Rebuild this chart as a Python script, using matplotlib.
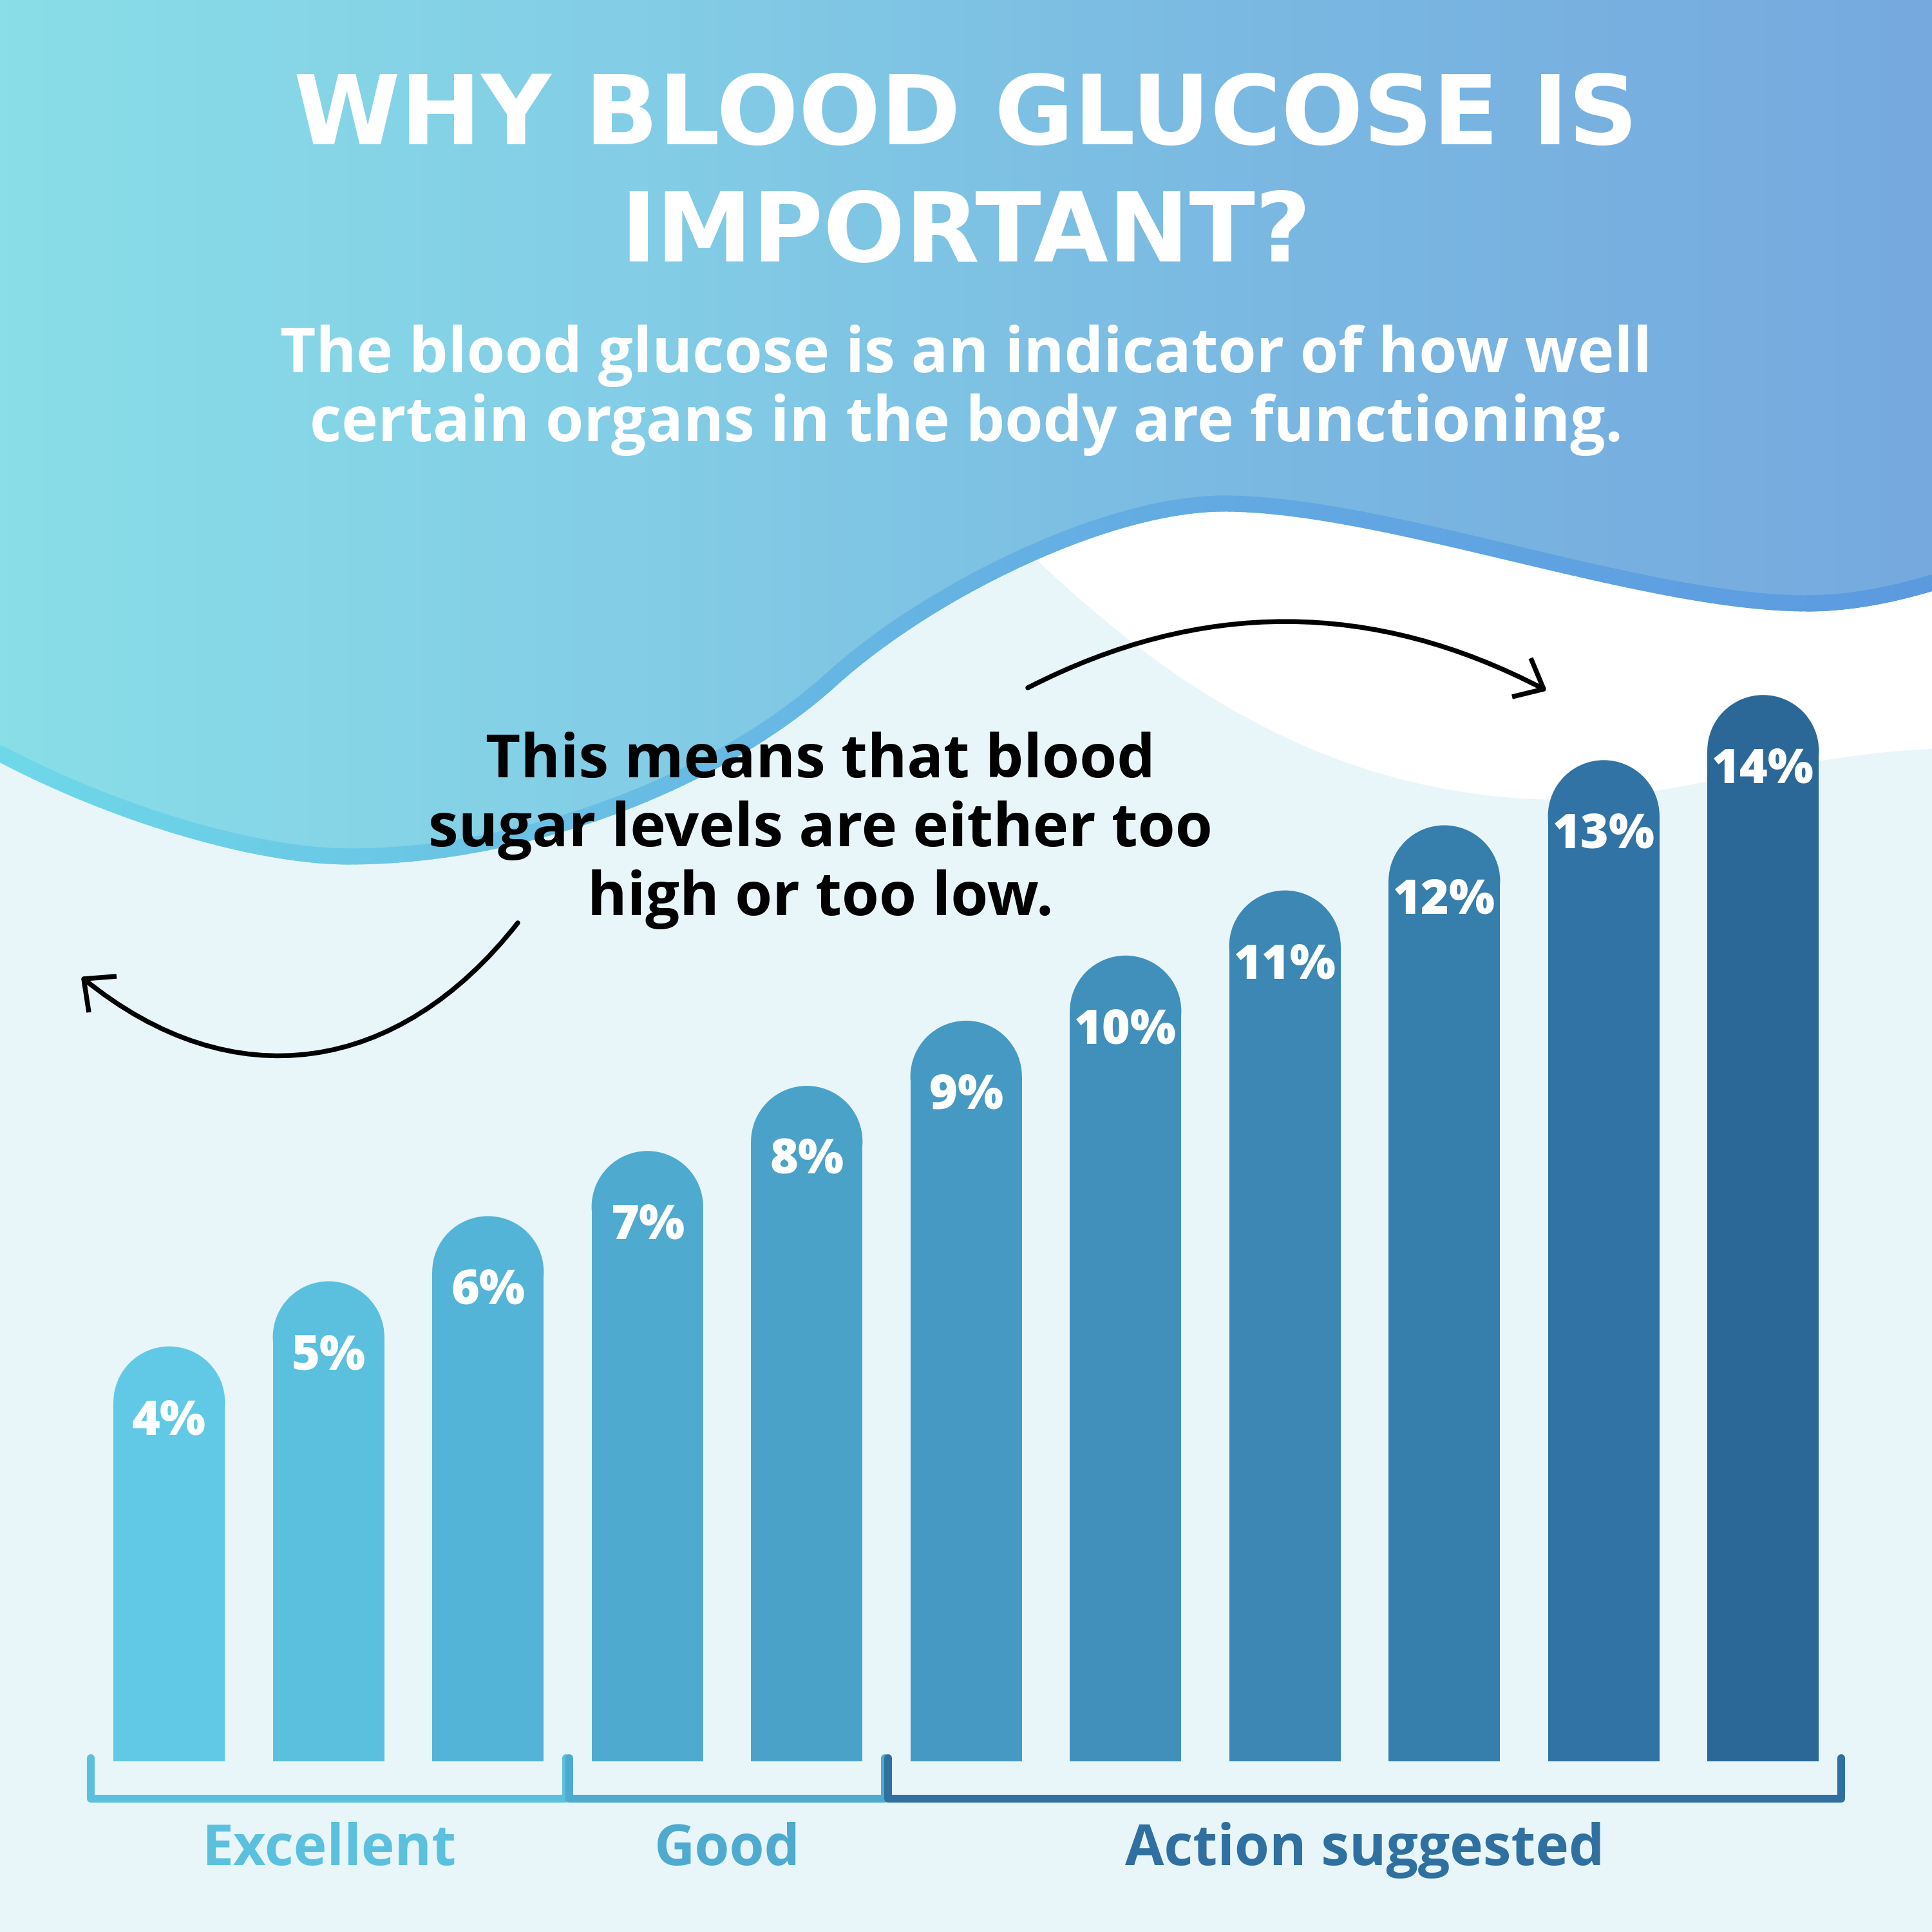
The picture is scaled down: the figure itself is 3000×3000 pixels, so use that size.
import numpy as np
import matplotlib
matplotlib.use("Agg")
from matplotlib import pyplot as plt
from matplotlib.path import Path
from matplotlib.patches import PathPatch, Ellipse, Polygon
from matplotlib.collections import LineCollection
from matplotlib.colors import LinearSegmentedColormap

# data
values = [4, 5, 6, 7, 8, 9, 10, 11, 12, 13, 14]
labels = ["4%", "5%", "6%", "7%", "8%", "9%", "10%", "11%", "12%", "13%", "14%"]
groups = ["Excellent", "Good", "Action suggested"]
group_start = [0, 3, 5]
group_end = [2, 4, 10]

bar_colors = ["#61C9E6", "#5BC0DE", "#53B4D7", "#4EAACF", "#4AA2C8", "#4599C2",
              "#4090BB", "#3C87B3", "#367EAC", "#3073A4", "#2B6898"]
group_colors = ["#5BC0DE", "#4EAACF", "#3070A0"]

title_lines = ["WHY BLOOD GLUCOSE IS", "IMPORTANT?"]
subtitle_lines = ["The blood glucose is an indicator of how well",
                  "certain organs in the body are functioning."]
note_lines = ["This means that blood", "sugar levels are either too", "high or too low."]

FONT = ["Open Sans", "DejaVu Sans"]
TITLE_FONT = ["DejaVu Sans"]
W = 3000

# background shapes: cubic bezier segments (p0, c1, c2, p1), pixel space, y down
wave_segs = [((0, 1170), (180, 1265), (400, 1330), (542, 1330)),
             ((542, 1330), (820, 1330), (1120, 1210), (1291, 1055)),
             ((1291, 1055), (1445, 916), (1720, 782), (1900, 782)),
             ((1900, 782), (2150, 782), (2550, 937), (2806, 937)),
             ((2806, 937), (2880, 937), (2950, 920), (3000, 905))]
white_segs = [((1605, 865), (1790, 1040), (2050, 1242), (2430, 1242)),
              ((2430, 1242), (2580, 1242), (2800, 1170), (3000, 1163))]


def bezier(segs, n=80):
    t = np.linspace(0, 1, n)[:, None]
    out = []
    for p0, c1, c2, p1 in segs:
        p0, c1, c2, p1 = map(np.array, (p0, c1, c2, p1))
        out.append((1 - t) ** 3 * p0 + 3 * (1 - t) ** 2 * t * c1 + 3 * (1 - t) * t ** 2 * c2 + t ** 3 * p1)
    return np.vstack(out)


fig = plt.figure(figsize=(10, 10), dpi=300)
fig.patch.set_facecolor("#E8F6F9")

bg = fig.add_axes([0, 0, 1, 1])
bg.set_xlim(0, W)
bg.set_ylim(W, 0)
bg.axis("off")

wave = bezier(wave_segs)
white = bezier(white_segs)

# white swoosh on the right
wx = wave[wave[:, 0] >= 1600]
white_poly = np.vstack([wx, white[::-1]])
bg.add_patch(Polygon(white_poly, closed=True, facecolor="white", edgecolor="none", zorder=1))

# gradient top
top_poly = np.vstack([[[0, 0], [W, 0]], wave[::-1]])
clip = Polygon(top_poly, closed=True, facecolor="none", edgecolor="none")
bg.add_patch(clip)
cmap_top = LinearSegmentedColormap.from_list("top", ["#89DEE8", "#83CDE6", "#7AB8E2", "#76AADF"])
grad = np.linspace(0, 1, 512)[None, :]
im = bg.imshow(grad, cmap=cmap_top, extent=[0, W, 1400, 0], aspect="auto", zorder=2)
im.set_clip_path(clip)
bg.set_xlim(0, W)
bg.set_ylim(W, 0)

# stroke along the wave
cmap_line = LinearSegmentedColormap.from_list("line", ["#6ED8E8", "#68BCE4", "#62A8E2", "#5C9AE0"])
segs = np.stack([wave[:-1], wave[1:]], axis=1)
lc = LineCollection(segs, colors=cmap_line(wave[:-1, 0] / W), linewidths=6.0, capstyle="round", zorder=3)
bg.add_collection(lc)

# title / subtitle
for k, line in enumerate(title_lines):
    fig.text(0.5, 1 - (224 + 182 * k) / W, line, ha="center", va="baseline", color="white",
             fontsize=36, fontweight="bold", family=TITLE_FONT)
for k, line in enumerate(subtitle_lines):
    fig.text(0.5, 1 - (578 + 107 * k) / W, line, ha="center", va="baseline", color="white",
             fontsize=23, fontweight="bold", family=FONT)
for k, line in enumerate(note_lines):
    fig.text(1274 / W, 1 - (1207 + 107 * k) / W, line, ha="center", va="baseline", color="black",
             fontsize=22.5, fontweight="bold", family=FONT)

# arrows
def curved_arrow(p0, c1, c2, p1, arms):
    path = Path([p0, c1, c2, p1], [Path.MOVETO, Path.CURVE4, Path.CURVE4, Path.CURVE4])
    bg.add_patch(PathPatch(path, facecolor="none", edgecolor="black", lw=1.8, capstyle="round", zorder=5))
    for a in arms:
        bg.plot([p1[0], a[0]], [p1[1], a[1]], color="black", lw=1.8, solid_capstyle="butt", zorder=5)

curved_arrow((1596, 1068), (1865, 930), (2132, 931), (2397, 1070), [(2377, 1022), (2348, 1082)])
curved_arrow((804, 1433), (619, 1669), (362, 1709), (130, 1520), [(181, 1516), (138, 1572)])

# bars
base = -2.37
ax = fig.add_axes([139 / W, 265 / W, 2722.5 / W, 17.37 * 101.15 / W])
ax.set_xlim(-0.5, 10.5)
ax.set_ylim(base, 15)
ax.axis("off")
ax.patch.set_alpha(0)

bw = 0.7
px_x = 2722.5 / 11
px_y = 17.37 * 101.15 / (15 - base)
ry = (bw / 2) * px_x / px_y
x = np.arange(len(values))
v = np.array(values, dtype=float)
ax.bar(x, v - ry - base, bottom=base, width=bw, color=bar_colors, align="center", zorder=2)
for i in range(len(values)):
    ax.add_patch(Ellipse((x[i], v[i] - ry), bw, 2 * ry, facecolor=bar_colors[i], edgecolor="none", zorder=2))
    ax.text(x[i], v[i] - 1.35, labels[i], ha="center", va="baseline", color="white",
            fontsize=18, fontweight="heavy", family=FONT, zorder=3)

# group brackets
for g in range(len(groups)):
    x0 = group_start[g] - 0.49
    x1 = group_end[g] + 0.49
    ax.plot([x0, x0, x1, x1], [base + 0.05, base - 0.57, base - 0.57, base + 0.05],
            color=group_colors[g], lw=2.9, solid_capstyle="round", solid_joinstyle="round", clip_on=False)
    ax.text((group_start[g] + group_end[g]) / 2, base - 1.59, groups[g], ha="center", va="baseline",
            color=group_colors[g], fontsize=21, fontweight="bold", family=FONT, clip_on=False)

fig.savefig("out.png", dpi=300, facecolor=fig.get_facecolor())
